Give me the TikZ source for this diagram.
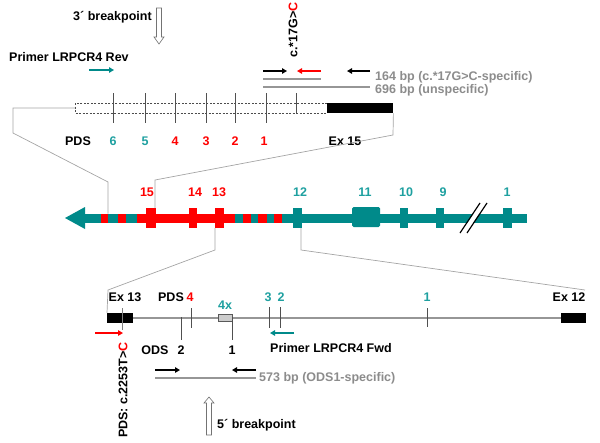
\documentclass[tikz,border=0pt]{standalone}
\usepackage{fontspec}
\setmainfont{Liberation Sans}
\usetikzlibrary{arrows.meta}
\definecolor{tealbar}{RGB}{0,138,138}
\definecolor{teallab}{RGB}{30,160,160}
\definecolor{redc}{RGB}{255,0,0}
\definecolor{linegray}{RGB}{165,165,165}
\definecolor{txtgray}{RGB}{140,140,140}
\definecolor{tickgray}{RGB}{80,80,80}
\definecolor{barline}{RGB}{150,150,150}
\begin{document}
\begin{tikzpicture}[x=1pt,y=-1pt,
  font=\fontsize{12.5}{14}\selectfont\bfseries,
  lbl/.style={inner sep=0pt},
  exonR/.style={draw=none,fill=redc,inner sep=0pt,minimum height=20pt},
  exonT/.style={draw=none,fill=tealbar,inner sep=0pt,minimum height=20pt},
  blackex/.style={draw=none,fill=black,inner sep=0pt,minimum height=10pt},
  bracket/.style={linegray,line width=0.7pt},
  tickline/.style={tickgray,line width=0.8pt},
  parrow/.style={line width=1.4pt,-{Triangle[length=5pt,width=5.5pt]}},
  ampl/.style={barline,line width=1.8pt},
  hollow/.style={draw=gray!90!black,fill=white,line width=0.6pt}
]
\useasboundingbox (0,0) rectangle (600,442);

% ---------------- top section ----------------
\node[lbl,anchor=west] (bp3) at (73,17) {3´ breakpoint};
\draw[hollow] (156.5,8) -- (161.5,8) -- (161.5,37) -- (164,37) -- (159,44) -- (154,37) -- (156.5,37) -- cycle;

\node[lbl,anchor=west] (prev) at (9,57) {Primer LRPCR4 Rev};
\coordinate (prevA) at (89,70);
\coordinate (prevB) at (114,70);
\draw[parrow,tealbar] (prevA) -- (prevB);

% dashed region
\coordinate (dL) at (75,108);
\draw[gray!60!black,line width=0.6pt,dash pattern=on 2pt off 1.5pt]
  (327,103) -- (75,103) -- (75,113) -- (327,113);
\node[blackex,minimum width=66pt,anchor=north west] (ex15) at (327,103) {};
\foreach \x in {113,145,175,206,235,266}{\draw[tickline] (\x,93) -- (\x,123);}
\draw[tickline] (296,93) -- (296,113);

\node[lbl] (pds) at (78,141) {PDS};
\node[lbl,text=teallab] at (113,141) {6};
\node[lbl,text=teallab] at (145,141) {5};
\node[lbl,text=redc] at (175,141) {4};
\node[lbl,text=redc] at (206,141) {3};
\node[lbl,text=redc] at (235,141) {2};
\node[lbl,text=redc] at (264,141) {1};
\node[lbl] (ex15l) at (345,141) {Ex 15};

% c.*17G>C
\node[lbl,rotate=90] (mut17) at (293,30) {c.*17G>\textcolor{redc}{C}};
\coordinate (f1a) at (263,71); \coordinate (f1b) at (287,71);
\coordinate (r1a) at (321,71); \coordinate (r1b) at (297,71);
\coordinate (r2a) at (370,71); \coordinate (r2b) at (347,71);
\draw[parrow,black] (f1a) -- (f1b);
\draw[parrow,redc] (r1a) -- (r1b);
\draw[parrow,black] (r2a) -- (r2b);
\draw[ampl] (263,79) -- (321,79);
\draw[ampl] (263,87) -- (370,87);
\node[lbl,anchor=west,text=txtgray] at (375,77) {164 bp (c.*17G>C-specific)};
\node[lbl,anchor=west,text=txtgray] at (375,90) {696 bp (unspecific)};

% ---------------- middle gene ----------------
\fill[tealbar] (65,218) -- (85,207) -- (85,229) -- cycle;
\fill[tealbar] (84,213.5) rectangle (527,222.5);
\foreach \a/\b in {101/108,118/126,137/235,243/251,258/267,274/282}{
  \fill[redc] (\a,213.5) rectangle (\b,222.5);}
\node[exonR,minimum width=10pt] (e15) at (150.5,218) {};
\node[exonR,minimum width=8.5pt] (e14) at (193,218) {};
\node[exonR,minimum width=9pt] (e13) at (219.5,218) {};
\node[exonT,minimum width=9pt] (e12) at (297.5,218) {};
\node[exonT,minimum width=28pt,rounded corners=1.5pt] (e11) at (366,217) {};
\node[exonT,minimum width=8pt] (e10) at (404,218) {};
\node[exonT,minimum width=8pt] (e9) at (440,218) {};
\node[exonT,minimum width=9pt] (e1) at (507.5,218) {};
\draw[white,line width=4.5pt] (463.5,233) -- (483.5,203);
\draw[black,line width=1.2pt] (460,233) -- (480,203);
\draw[black,line width=1.2pt] (467,233) -- (487,203);

\node[lbl,text=redc] at (147,192) {15};
\node[lbl,text=redc] at (195,192) {14};
\node[lbl,text=redc] at (219,192) {13};
\node[lbl,text=teallab] at (300,192) {12};
\node[lbl,text=teallab] at (365,192) {11};
\node[lbl,text=teallab] at (406,192) {10};
\node[lbl,text=teallab] at (443,192) {9};
\node[lbl,text=teallab] at (507,192) {1};

% brackets top
\draw[bracket] (dL) -- (13,108) -- (13,133) -- (108,182) -- (108,213.5);
\draw[bracket] (ex15.south east) -- (393,135) -- (155,180) -- (155,208);

% ---------------- bottom section ----------------
\node[blackex,minimum width=26pt,anchor=north west] (ex13) at (107,313) {};
\node[blackex,minimum width=25pt,anchor=north west] (ex12) at (561,313) {};
\draw[barline,line width=1.5pt] (ex13.east) -- (ex12.west);
\node[draw=gray!70!black,fill=gray!40,inner sep=0pt,minimum width=14pt,minimum height=7pt,line width=0.5pt] (x4) at (225,317.5) {};

% brackets bottom
\draw[bracket] (e13.south -| 215,0) -- (215,250) -- (108,290) -- (ex13.north west);
\draw[bracket] (e12.south -| 301,0) -- (301,250) -- (585,290);

\draw[tickline,gray] (122,308) -- (122,330);
\draw[tickline] (191,308) -- (191,328);
\draw[tickline] (181,317) -- (181,340);
\draw[tickline] (232,317) -- (232,340);
\draw[tickline] (269,307) -- (269,328);
\draw[tickline] (280,307) -- (280,328);
\draw[tickline] (427,308) -- (427,327);

\node[lbl] at (125,297) {Ex 13};
\node[lbl] at (171,297) {PDS};
\node[lbl,text=redc] at (190,297) {4};
\node[lbl,text=teallab] at (225,305) {4x};
\node[lbl,text=teallab] at (268,297) {3};
\node[lbl,text=teallab] at (281,297) {2};
\node[lbl,text=teallab] at (427,297) {1};
\node[lbl] at (569,297) {Ex 12};

\coordinate (pfa) at (95,333); \coordinate (pfb) at (123,333);
\draw[parrow,redc] (pfa) -- (pfb);
\coordinate (pra) at (294,333); \coordinate (prb) at (270,333);
\draw[parrow,tealbar] (pra) -- (prb);
\node[lbl,anchor=west] at (270,348) {Primer LRPCR4 Fwd};

\node[lbl] at (155,350) {ODS};
\node[lbl] at (181,350) {2};
\node[lbl] at (232,350) {1};

\node[lbl,rotate=90] (mut2253) at (123,390) {PDS: c.2253T>\textcolor{redc}{C}};

\coordinate (oa) at (155,370); \coordinate (ob) at (180,370);
\coordinate (oc) at (256,370); \coordinate (od) at (232,370);
\draw[parrow,black] (oa) -- (ob);
\draw[parrow,black] (oc) -- (od);
\draw[ampl] (155,378) -- (256,378);
\node[lbl,anchor=west,text=txtgray] at (259,378) {573 bp (ODS1-specific)};

\draw[hollow] (206.5,435) -- (211.5,435) -- (211.5,403) -- (214,403) -- (209,397) -- (204,403) -- (206.5,403) -- cycle;
\node[lbl,anchor=west] at (217,425) {5´ breakpoint};
\end{tikzpicture}
\end{document}
